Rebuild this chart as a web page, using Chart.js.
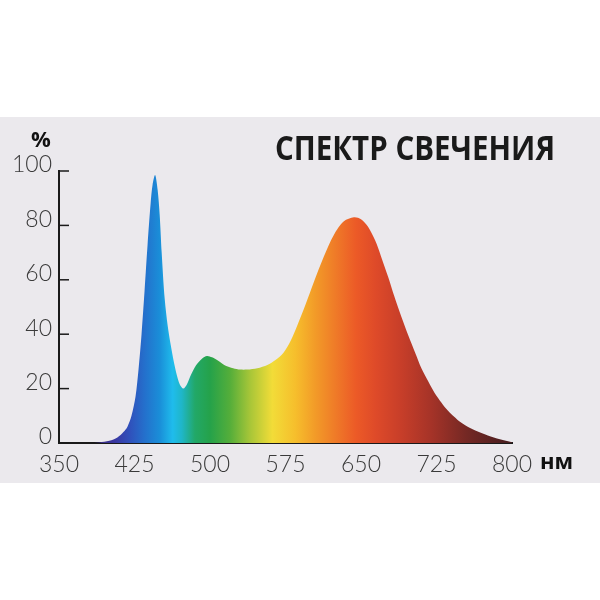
<!DOCTYPE html>
<html>
<head>
<meta charset="utf-8">
<script src="https://cdn.jsdelivr.net/npm/chart.js@4"></script>
<style>
  html, body { margin: 0; padding: 0; background: #ffffff; }
  #wrap { width: 600px; height: 600px; }
</style>
</head>
<body>
<div id="wrap"><canvas id="spectrum" width="600" height="600"></canvas></div>
<script>
// wavelength, nm
var Wavelengths = [350, 380, 390, 400, 408, 414, 418, 422, 426, 429, 432, 435, 438, 441, 443, 445.5,
    448, 450, 452, 455, 458, 461, 464, 467, 470, 473.5, 477, 481, 486, 492, 497, 502, 507, 515, 523,
    530, 537, 547, 557, 565, 573, 580, 587, 595, 603, 613, 623, 633, 643, 650, 657, 664, 670, 677,
    683, 690, 697, 704, 710, 717, 723, 730, 736, 746, 756, 766, 776, 788, 800];
// relative intensity, %
var Intensity = [0, 0, 0.2, 0.8, 2, 4, 6, 10, 17, 27, 40, 56, 73, 88, 95, 98.5,
    93, 84, 70, 53, 43, 36, 30, 25, 21.5, 20, 21.5, 25, 28.5, 31, 32, 31.5, 30.5, 28.5, 27.5,
    27, 27, 27.5, 28.7, 30.5, 33.2, 37.5, 43.5, 51, 59, 68.5, 76.5, 81.5, 83, 82.3, 79.5, 74.5, 68.5, 61,
    54, 46.5, 39.5, 33, 27.5, 22.5, 18.5, 14.8, 12, 8.5, 6, 4.2, 2.8, 1.4, 0.3];

var XTicks = [350, 425, 500, 575, 650, 725, 800];
var YTicks = [0, 20, 40, 60, 80, 100];

// spectrum colours along the wavelength axis
var ColorStopsNm = [390, 405, 420, 435, 450, 463, 472, 485, 500, 520, 540, 562, 585, 605, 625, 645, 665, 690, 720, 755, 795];
var ColorStops = ["#3a2c80", "#3a36a0", "#3050bb", "#2470cc", "#1a8ed8", "#1fbcec", "#1fb6c8", "#22a868",
    "#25a24a", "#55ae3a", "#a8c638", "#f2dc38", "#f6be2c", "#f29a28", "#ef7a28", "#ec5a27",
    "#de4a29", "#c73e29", "#a53328", "#742824", "#4a1e20"];

var TitleText = "СПЕКТР СВЕЧЕНИЯ";
var YUnit = "%";
var XUnit = "нм";

function spectrumFill(context) {
    var chart = context.chart;
    if (!chart.chartArea) return "#888";
    var xs = chart.scales.x;
    var x0 = xs.getPixelForValue(350);
    var x1 = xs.getPixelForValue(800);
    var g = chart.ctx.createLinearGradient(x0, 0, x1, 0);
    for (var i = 0; i < ColorStops.length; i++) {
        g.addColorStop((ColorStopsNm[i] - 350) / 450, ColorStops[i]);
    }
    return g;
}

var decorPlugin = {
    id: 'decor',
    beforeDraw: function (chart) {
        var ctx = chart.ctx;
        ctx.save();
        ctx.fillStyle = "#ffffff";
        ctx.fillRect(0, 0, chart.width, chart.height);
        ctx.fillStyle = "#ebe9ed";
        ctx.fillRect(0, 117, chart.width, 366);
        ctx.restore();
    },
    afterDraw: function (chart) {
        var ctx = chart.ctx;
        var ys = chart.scales.y;
        var xs = chart.scales.x;
        var left = chart.chartArea.left;
        ctx.save();
        // inward ticks on the y axis
        ctx.strokeStyle = "#1a1a1a";
        ctx.lineWidth = 1.5;
        for (var i = 0; i < YTicks.length; i++) {
            var py = ys.getPixelForValue(YTicks[i]);
            ctx.beginPath();
            ctx.moveTo(left, py);
            ctx.lineTo(left + 10, py);
            ctx.stroke();
        }
        // title
        ctx.fillStyle = "#1a1a1a";
        ctx.textBaseline = "alphabetic";
        ctx.font = "bold 34px 'Open Sans', 'DejaVu Sans', sans-serif";
        var w = ctx.measureText(TitleText).width;
        ctx.translate(275, 160);
        ctx.scale(280 / w, 1);
        ctx.fillText(TitleText, 0, 0);
        ctx.restore();

        ctx.save();
        ctx.fillStyle = "#111111";
        ctx.font = "bold 22px 'Open Sans', 'DejaVu Sans', sans-serif";
        ctx.textAlign = "center";
        ctx.fillText(YUnit, 41, 147);
        ctx.textAlign = "left";
        ctx.fillText(XUnit, xs.getPixelForValue(800) + 28, 469);
        ctx.restore();
    }
};

var ctx = document.getElementById("spectrum");
var spectrumChart = new Chart(ctx, {
    type: 'line',
    data: {
        datasets: [{
            data: Wavelengths.map(function (w, i) { return { x: w, y: Intensity[i] }; }),
            fill: 'origin',
            backgroundColor: spectrumFill,
            borderWidth: 0,
            borderColor: 'rgba(0,0,0,0)',
            pointRadius: 0,
            tension: 0.3
        }]
    },
    options: {
        responsive: false,
        animation: false,
        events: [],
        layout: { padding: { left: 0, right: 88, top: 171, bottom: 0 } },
        plugins: { legend: { display: false }, tooltip: { enabled: false } },
        scales: {
            x: {
                type: 'linear',
                min: 350,
                max: 800,
                afterBuildTicks: function (scale) {
                    scale.ticks = XTicks.map(function (v) { return { value: v }; });
                },
                afterFit: function (scale) { scale.height = 157; },
                grid: { display: false, drawTicks: false },
                border: { color: "#1a1a1a", width: 2 },
                ticks: {
                    color: "#3a3a3a",
                    padding: 8,
                    maxRotation: 0,
                    autoSkip: false,
                    font: { family: "Lato, 'Open Sans', sans-serif", size: 23, weight: '300' }
                }
            },
            y: {
                min: 0,
                max: 100,
                afterBuildTicks: function (scale) {
                    scale.ticks = YTicks.map(function (v) { return { value: v }; });
                },
                afterFit: function (scale) { scale.width = 59; },
                grid: { display: false, drawTicks: false },
                border: { color: "#1a1a1a", width: 2 },
                ticks: {
                    color: "#3a3a3a",
                    padding: 7,
                    labelOffset: -6,
                    font: { family: "Lato, 'Open Sans', sans-serif", size: 23, weight: '300' }
                }
            }
        }
    },
    plugins: [decorPlugin]
});
</script>
</body>
</html>
